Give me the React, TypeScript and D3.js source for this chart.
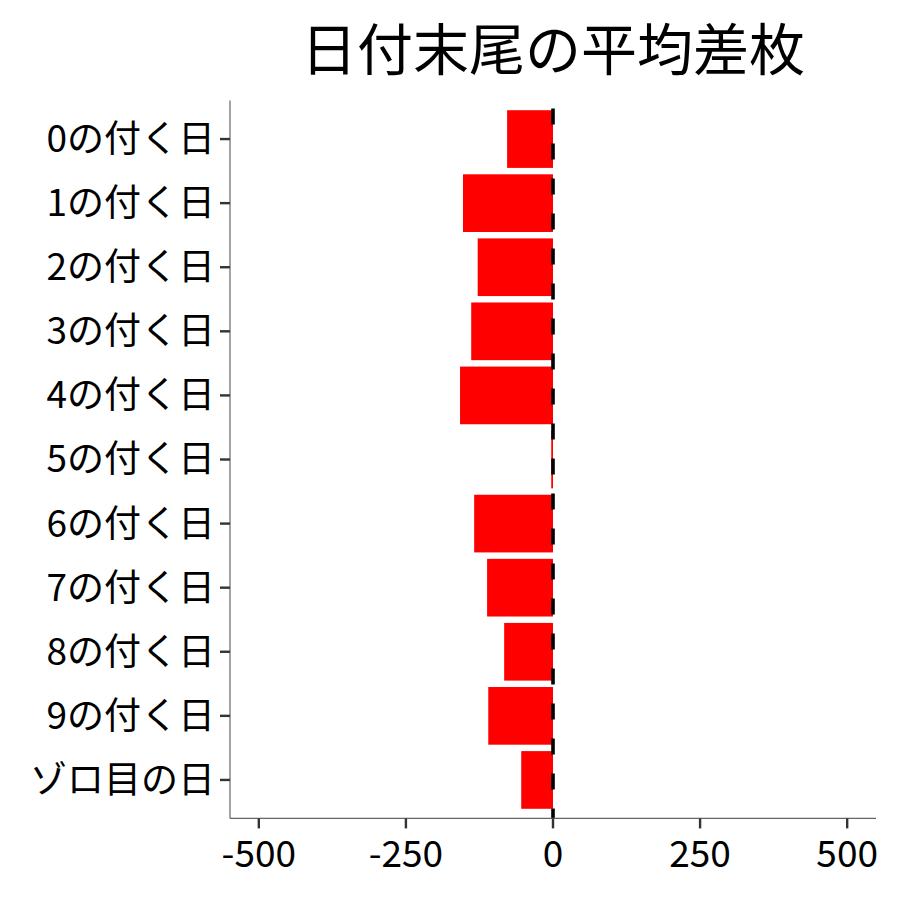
import * as React from 'react';
import * as d3 from 'd3';

const categories = ['0の付く日', '1の付く日', '2の付く日', '3の付く日', '4の付く日', '5の付く日', '6の付く日', '7の付く日', '8の付く日', '9の付く日', 'ゾロ目の日'];
const values = [-78, -153, -128, -139, -158, -3, -134, -112, -83, -110, -54];
const xTicks = [-500, -250, 0, 250, 500];
const title = '日付末尾の平均差枚';

const width = 900;
const height = 900;
const margin = {top: 100.6, right: 24, bottom: 81.6, left: 230};
const font = '"Noto Sans CJK JP", "Noto Sans", sans-serif';

export default function App() {
  const innerW = width - margin.left - margin.right;
  const innerH = height - margin.top - margin.bottom;

  const x = d3.scaleLinear().domain([-549, 549]).range([0, innerW]);
  // ggplot style discrete expansion: 0.6 of a step at each end
  const step = innerH / (categories.length - 1 + 1.2);
  const y = d3.scalePoint<string>().domain(categories).range([0.6 * step, innerH - 0.6 * step]);
  const barH = step * 0.9;

  return (
    <svg width={width} height={height} style={{display: 'block', position: 'absolute', left: 0, top: 0}}>
      <rect width={width} height={height} fill="#fff"/>
      <text x={margin.left + innerW / 2} y={70} textAnchor="middle" fontFamily={font} fontSize={56} fill="#000">{title}</text>
      <g transform={`translate(${margin.left},${margin.top})`}>
        {categories.map((c, i) => {
          const v = values[i];
          const x0 = x(Math.min(0, v));
          const x1 = x(Math.max(0, v));
          return <rect key={c} x={x0} y={y(c)! - barH / 2} width={x1 - x0} height={barH} fill="#ff0000"/>;
        })}
        <line x1={x(0)} x2={x(0)} y1={0} y2={innerH} stroke="#000" strokeWidth={3.6} strokeDasharray="16,19" strokeDashoffset={-8}/>
        {/* y axis */}
        <line x1={0} x2={0} y1={0} y2={innerH} stroke="#666" strokeWidth={1.2}/>
        {categories.map(c => (
          <g key={c} transform={`translate(0,${y(c)})`}>
            <line x1={-10} x2={0} stroke="#333" strokeWidth={2.4}/>
            <text x={-15} dy="0.35em" textAnchor="end" fontFamily={font} fontSize={37} fill="#000">{c}</text>
          </g>
        ))}
        {/* x axis */}
        <line x1={0} x2={innerW} y1={innerH} y2={innerH} stroke="#666" strokeWidth={1.2}/>
        {xTicks.map(t => (
          <g key={t} transform={`translate(${x(t)},${innerH})`}>
            <line y1={0} y2={10} stroke="#333" strokeWidth={2.4}/>
            <text y={49} textAnchor="middle" fontFamily={font} fontSize={37} fill="#000">{t}</text>
          </g>
        ))}
      </g>
    </svg>
  );
}
